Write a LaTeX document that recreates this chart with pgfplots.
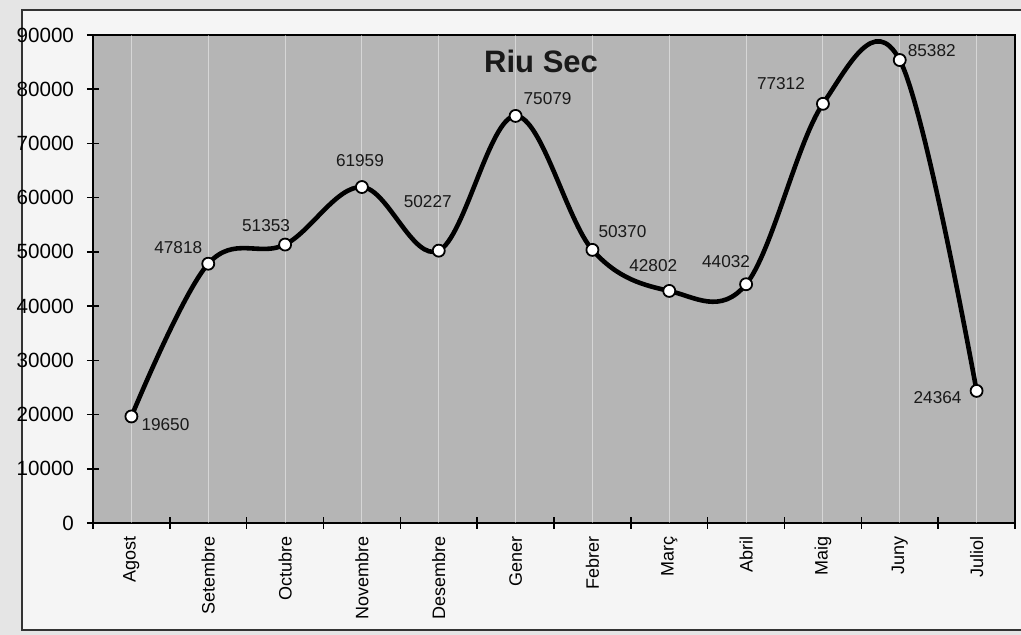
\documentclass[border=0pt]{standalone}
\usepackage{pgfplots}
\pgfplotsset{compat=1.18}
\usepackage{pgfplotstable}
\usepackage{fontspec}
\setmainfont{Liberation Sans}

\pgfplotstableread{
x  y      dx     dy
0  19650  17     -4
1  47818  -15    8
2  51353  -9.5   9.5
3  61959  -1     13
4  50227  -5.5   24.5
5  75079  16     8.5
6  50370  15     9
7  42802  -8     12.5
8  44032  -10    11.5
9  77312  -21    10
10 85382  16     4.5
11 24364  -19.5  -3.5
}\riusec

\begin{document}
\begin{tikzpicture}
\useasboundingbox[fill=black!10] (-46.5pt,-56pt) rectangle (464pt,261.5pt);
\fill[black!4] (-35.5pt,-53.5pt) rectangle (464pt,256.5pt);
\draw[black!80, line width=0.8pt] (464pt,256.5pt) -- (-35.5pt,256.5pt) -- (-35.5pt,-53.5pt) -- (464pt,-53.5pt);
\begin{axis}[
  at={(0pt,0pt)}, anchor=south west,
  scale only axis, width=461pt, height=244pt,
  xmin=-0.5, xmax=11.5, ymin=0, ymax=90000,
  axis background/.style={fill=black!29},
  axis line style={black, line width=1pt},
  tick align=center,
  major tick length=6pt,
  every tick/.style={black, line width=0.8pt},
  ytick={0,10000,...,90000},
  ytick pos=left,
  xtick pos=bottom,
  scaled y ticks=false,
  /pgf/number format/.cd, 1000 sep={}, assume math mode=true,
  /pgfplots/.cd,
  yticklabel style={font=\fontsize{10.3}{12}\selectfont, xshift=-3pt},
  xtick={-0.5,0.5,...,11.5},
  xticklabels={},
  extra x ticks={0,1,2,3,4,5,6,7,8,9,10,11},
  extra x tick labels={Agost,Setembre,Octubre,Novembre,Desembre,Gener,Febrer,Març,Abril,Maig,Juny,Juliol},
  extra x tick style={
    major tick length=0pt,
    grid=major,
    major grid style={white, line width=0.5pt, opacity=0.45},
    xticklabel style={font=\fontsize{9}{11}\selectfont, rotate=90, anchor=east, xshift=-3pt},
  },
  clip=false,
]
\addplot[black, line width=2.3pt, smooth, tension=0.6,
  mark=*, mark size=3pt,
  mark options={fill=white, draw=black, line width=0.9pt},
  nodes near coords,
  visualization depends on={\thisrow{dx} \as \labdx},
  visualization depends on={\thisrow{dy} \as \labdy},
  nodes near coords style={font=\fontsize{8.6}{10}\selectfont, black!90, anchor=center,
     xshift=\labdx pt, yshift=\labdy pt},
] table[x=x, y=y] {\riusec};
\node[font=\bfseries\fontsize{15.5}{18}\selectfont, black!90] at (rel axis cs:0.486,0.945) {Riu Sec};
\end{axis}
\end{tikzpicture}
\end{document}
